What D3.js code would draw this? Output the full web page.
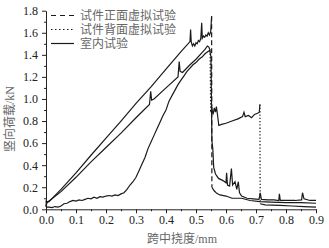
<!DOCTYPE html>
<html>
<head>
<meta charset="utf-8">
<script src="https://cdn.jsdelivr.net/npm/d3@7"></script>
<style>
  body { margin: 0; background: #fff; }
  .domain, .tick line { stroke: #222; }
</style>
</head>
<body>
<div class="chart"></div>
<script>
// series names shown in the legend
var seriesNames = ["试件正面虚拟试验", "试件背面虚拟试验", "室内试验"];

// tick values
var xTicks = [0, 0.1, 0.2, 0.3, 0.4, 0.5, 0.6, 0.7, 0.8, 0.9];
var yTicks = [0, 0.2, 0.4, 0.6, 0.8, 1.0, 1.2, 1.4, 1.6, 1.8];

// front face virtual test (dashed)
var frontData = [
  [0.000,0.02],[0.003,0.07],[0.010,0.07],[0.050,0.18],[0.100,0.33],[0.150,0.49],[0.200,0.645],
  [0.250,0.80],[0.300,0.96],[0.350,1.11],[0.400,1.27],[0.450,1.43],[0.480,1.52],[0.482,1.63],
  [0.484,1.52],[0.488,1.48],[0.492,1.50],[0.496,1.48],[0.500,1.51],[0.504,1.50],[0.508,1.53],
  [0.512,1.52],[0.516,1.55],[0.519,1.69],[0.521,1.55],[0.525,1.57],[0.529,1.56],[0.533,1.58],
  [0.537,1.57],[0.541,1.60],[0.545,1.58],[0.549,1.61],[0.552,1.75],[0.553,0.20],[0.560,0.17],
  [0.569,0.145],[0.580,0.13],[0.600,0.12],[0.620,0.10],[0.652,0.10],[0.680,0.08],[0.713,0.07],
  [0.750,0.065],[0.800,0.06],[0.850,0.06],[0.900,0.055]
];

// back face virtual test (dotted)
var backData = [
  [0.000,0.03],[0.003,0.06],[0.050,0.16],[0.100,0.29],[0.150,0.43],[0.200,0.56],[0.250,0.69],
  [0.300,0.83],[0.345,0.95],[0.349,1.07],[0.352,0.99],[0.360,1.00],[0.400,1.10],[0.440,1.20],
  [0.444,1.34],[0.447,1.25],[0.455,1.24],[0.480,1.31],[0.500,1.36],[0.520,1.42],[0.530,1.45],
  [0.538,1.48],[0.543,1.47],[0.547,1.44],[0.549,0.88],[0.553,0.91],[0.557,0.86],[0.561,0.92],
  [0.565,0.88],[0.568,0.93],[0.572,0.85],[0.576,0.76],[0.585,0.77],[0.600,0.78],[0.620,0.80],
  [0.640,0.82],[0.655,0.84],[0.660,0.88],[0.664,0.84],[0.675,0.85],[0.685,0.83],[0.695,0.86],
  [0.705,0.87],[0.711,0.88],[0.713,0.95],[0.714,0.05],[0.730,0.04],[0.780,0.035],[0.820,0.03],
  [0.860,0.025],[0.900,0.02]
];

// laboratory test (solid)
var labData = [
  [0.000,0.08],[0.002,0.02],[0.010,0.02],[0.020,0.015],[0.030,0.025],[0.040,0.02],[0.050,0.03],
  [0.060,0.05],[0.070,0.055],[0.080,0.07],[0.090,0.08],[0.100,0.075],[0.110,0.085],[0.120,0.08],
  [0.130,0.09],[0.140,0.10],[0.150,0.095],[0.160,0.11],[0.170,0.10],[0.180,0.115],[0.190,0.11],
  [0.200,0.12],[0.210,0.125],[0.220,0.12],[0.230,0.13],[0.240,0.125],[0.250,0.14],[0.260,0.15],
  [0.270,0.18],[0.280,0.22],[0.290,0.25],[0.300,0.29],[0.310,0.35],[0.320,0.41],[0.330,0.47],
  [0.340,0.55],[0.350,0.61],[0.360,0.67],[0.370,0.73],[0.380,0.79],[0.390,0.85],[0.400,0.90],
  [0.410,0.98],[0.420,1.03],[0.430,1.08],[0.440,1.13],[0.450,1.17],[0.460,1.21],[0.470,1.25],
  [0.480,1.28],[0.490,1.31],[0.500,1.33],[0.510,1.36],[0.520,1.38],[0.530,1.41],[0.540,1.43],
  [0.546,1.44],[0.550,1.38],[0.553,0.62],[0.556,0.55],[0.559,0.38],[0.565,0.32],[0.575,0.28],
  [0.590,0.26],[0.600,0.24],[0.602,0.33],[0.605,0.22],[0.612,0.21],[0.618,0.37],[0.622,0.22],
  [0.630,0.25],[0.636,0.18],[0.641,0.25],[0.645,0.15],[0.652,0.12],[0.670,0.10],[0.690,0.095],
  [0.710,0.09],[0.714,0.15],[0.718,0.09],[0.740,0.085],[0.760,0.085],[0.776,0.08],[0.778,0.14],
  [0.781,0.08],[0.800,0.08],[0.830,0.08],[0.852,0.085],[0.855,0.15],[0.860,0.095],[0.880,0.08],
  [0.900,0.08]
];

var allSeries = [frontData, backData, labData];
var dashes = ["5,3", "1.3,2", null];

var Width = 329, Height = 248;
var cjkFont = "'Liberation Serif', 'Noto Sans CJK SC', serif";

var svg = d3.select(".chart").append("svg")
  .attr("width", Width)
  .attr("height", Height);

var x = d3.scaleLinear().domain([0, 0.9]).range([46, 316]);
var y = d3.scaleLinear().domain([0, 1.8]).range([209.3, 10.7]);

// minor ticks first, then major with labels
svg.append("g")
  .attr("transform", "translate(0,209.3)")
  .call(d3.axisBottom(x).tickValues(d3.range(0.05, 0.9, 0.1)).tickSize(2).tickFormat(""))
  .select(".domain").remove();
svg.append("g")
  .attr("transform", "translate(46,0)")
  .call(d3.axisLeft(y).tickValues(d3.range(0.1, 1.8, 0.2)).tickSize(2).tickFormat(""))
  .select(".domain").remove();

var xAxis = svg.append("g")
  .attr("transform", "translate(0,209.3)")
  .call(d3.axisBottom(x).tickValues(xTicks).tickSize(4).tickSizeOuter(0).tickPadding(2)
    .tickFormat(d3.format(".1f")));
var yAxis = svg.append("g")
  .attr("transform", "translate(46,0)")
  .call(d3.axisLeft(y).tickValues(yTicks).tickSize(4).tickSizeOuter(0).tickPadding(4)
    .tickFormat(d3.format(".1f")));

[xAxis, yAxis].forEach(function(g) {
  g.selectAll("text")
    .style("font-family", "'Liberation Serif', 'DejaVu Serif', serif")
    .style("font-size", "12px")
    .style("fill", "#222");
});

var line = d3.line()
  .x(function(d) { return x(d[0]); })
  .y(function(d) { return y(d[1]); });

// draw each series: normal stretches solid, sudden drops with the series dash style
allSeries.forEach(function(data, i) {
  var run = [data[0]];
  for (var k = 1; k < data.length; k++) {
    var a = data[k - 1], b = data[k];
    var jump = (b[0] - a[0]) <= 0.003 && Math.abs(b[1] - a[1]) > 0.3;
    if (jump) {
      if (run.length > 1) {
        svg.append("path").datum(run).attr("d", line)
          .attr("fill", "none").attr("stroke", "#1a1a1a").attr("stroke-width", 1.2);
      }
      svg.append("path").datum([a, b]).attr("d", line)
        .attr("fill", "none").attr("stroke", i == 2 ? "#666" : "#1a1a1a").attr("stroke-width", 1.2)
        .attr("stroke-dasharray", dashes[i]);
      run = [b];
    } else {
      run.push(b);
    }
  }
  if (run.length > 1) {
    svg.append("path").datum(run).attr("d", line)
      .attr("fill", "none").attr("stroke", "#1a1a1a").attr("stroke-width", 1.2);
  }
});

// legend
var legend = svg.append("g");
seriesNames.forEach(function(name, i) {
  var ly = 15.5 + i * 14;
  legend.append("line")
    .attr("x1", 51).attr("x2", 74).attr("y1", ly).attr("y2", ly)
    .attr("stroke", "#1a1a1a").attr("stroke-width", 1.2)
    .attr("stroke-dasharray", i == 0 ? "5,4" : (i == 1 ? "1.5,2.5" : null));
  legend.append("text")
    .attr("x", 80).attr("y", ly)
    .attr("dy", "0.35em")
    .style("font-family", cjkFont)
    .style("font-size", "12px")
    .style("fill", "#666")
    .text(name);
});

// axis titles
svg.append("text")
  .attr("x", 182).attr("y", 243)
  .attr("text-anchor", "middle")
  .style("font-family", cjkFont)
  .style("font-size", "12px")
  .style("fill", "#666")
  .text("跨中挠度/mm");

svg.append("text")
  .attr("transform", "translate(14,119) rotate(-90)")
  .attr("text-anchor", "middle")
  .style("font-family", cjkFont)
  .style("font-size", "12px")
  .style("fill", "#666")
  .text("竖向荷载/kN");
</script>
</body>
</html>
